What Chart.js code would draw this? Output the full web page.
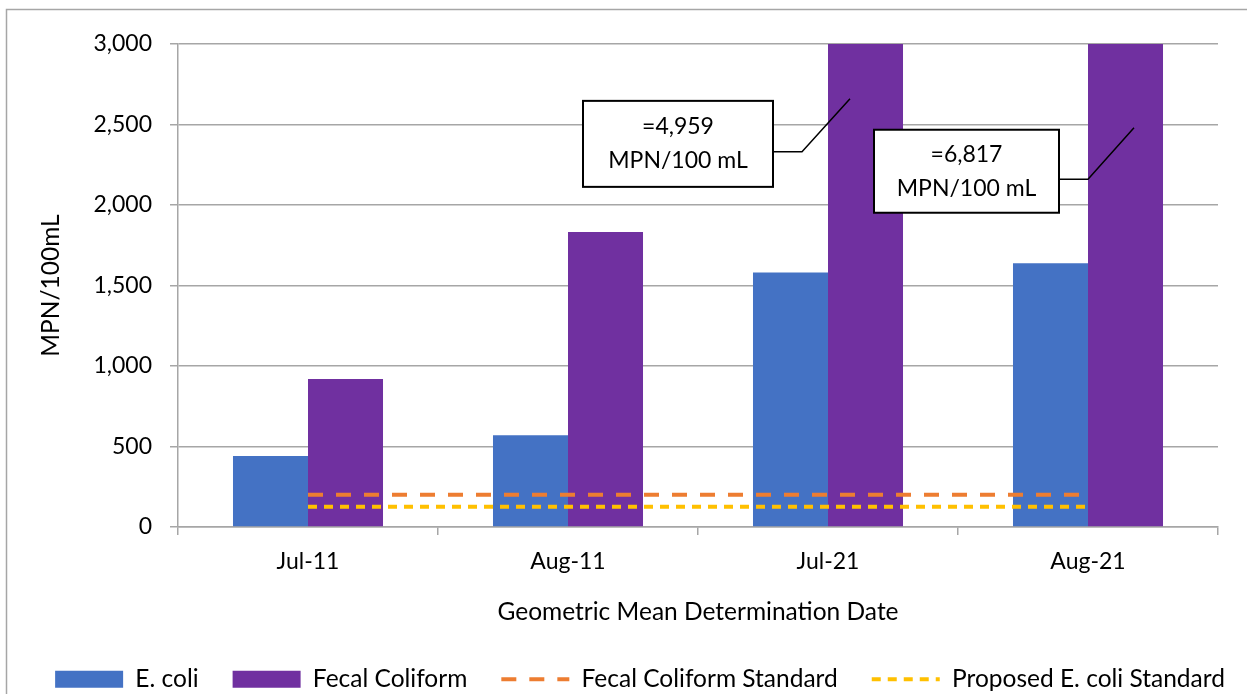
<!DOCTYPE html>
<html>
<head>
<meta charset="utf-8">
<title>Geometric Mean MPN/100mL</title>
<script src="https://cdn.jsdelivr.net/npm/chart.js@4.4.1/dist/chart.umd.min.js"></script>
<style>
  html, body { margin: 0; padding: 0; background: #fff; }
  #wrap { width: 1247px; height: 694px; position: relative; }
</style>
</head>
<body>
<div id="wrap"><canvas id="chart"></canvas></div>
<script>
// --- Data ---
const dates = ['Jul-11', 'Aug-11', 'Jul-21', 'Aug-21'];
const eColi = [441, 570, 1580, 1638];
const fecalColiform = [920, 1833, 4959, 6817];
const fecalStandard = [200, 200, 200, 200];
const eColiStandard = [126, 126, 126, 126];
const yMax = 3000;
const yStep = 500;

const FONT = 'Lato, "Noto Sans", sans-serif';
const FONT_SIZE = 23;     // ticks and callouts
const LABEL_SIZE = 24.5;  // axis titles and legend
const GRID = '#a6a6a6';

// Callouts for the bars that run off the top of the axis
const callouts = [
    { index: 2, tipDx: 22, tipValue: 2660, elbowDx: -26, elbowValue: 2330, boxW: 190, boxH: 86 },
    { index: 3, tipDx: 46, tipValue: 2480, elbowDx: 0, elbowValue: 2160, boxW: 185, boxH: 83 }
];

// Outer frame around the whole chart
const framePlugin = {
    id: 'frame',
    beforeDraw(chart) {
        const ctx = chart.ctx;
        ctx.save();
        ctx.fillStyle = '#fff';
        ctx.fillRect(0, 0, chart.width, chart.height);
        ctx.strokeStyle = GRID;
        ctx.lineWidth = 1.5;
        ctx.strokeRect(6.5, 9.5, chart.width + 20, chart.height + 20);
        ctx.restore();
    }
};

// Text boxes with leader lines pointing at the clipped bars
const calloutPlugin = {
    id: 'callouts',
    afterDatasetsDraw(chart) {
        const ctx = chart.ctx;
        const y = chart.scales.y;
        const meta = chart.getDatasetMeta(1);
        ctx.save();
        callouts.forEach(c => {
            const bar = meta.data[c.index];
            const barLeft = bar.x - bar.width / 2;
            const tipX = barLeft + c.tipDx;
            const tipY = y.getPixelForValue(c.tipValue);
            const elbowX = barLeft + c.elbowDx;
            const elbowY = y.getPixelForValue(c.elbowValue);
            const boxRight = elbowX - 29;
            const boxLeft = boxRight - c.boxW;
            const boxTop = elbowY - 8 - c.boxH / 2;

            ctx.strokeStyle = '#000';
            ctx.lineWidth = 1.5;
            ctx.beginPath();
            ctx.moveTo(boxRight, elbowY);
            ctx.lineTo(elbowX, elbowY);
            ctx.lineTo(tipX, tipY);
            ctx.stroke();

            ctx.fillStyle = '#fff';
            ctx.fillRect(boxLeft, boxTop, c.boxW, c.boxH);
            ctx.lineWidth = 2;
            ctx.strokeRect(boxLeft, boxTop, c.boxW, c.boxH);

            const value = fecalColiform[c.index];
            ctx.fillStyle = '#000';
            ctx.font = `${FONT_SIZE}px ${FONT}`;
            ctx.textAlign = 'center';
            ctx.textBaseline = 'middle';
            const cx = boxLeft + c.boxW / 2;
            const cy = boxTop + c.boxH / 2;
            ctx.fillText('=' + value.toLocaleString('en-US'), cx, cy - 17);
            ctx.fillText('MPN/100 mL', cx, cy + 17);
        });
        ctx.restore();
    }
};

// Keep the legend on one row, pin its height and centre it a little right
const legendFitPlugin = {
    id: 'legendFit',
    beforeInit(chart) {
        const fit = chart.legend.fit;
        chart.legend.fit = function () {
            const mw = this.maxWidth;
            this.maxWidth = mw + 200;
            fit.call(this);
            this.maxWidth = mw;
            this.width = mw;
            this.height = 61;
        };
    },
    afterLayout(chart) {
        // centre of the row ends up at (left + right) / 2
        chart.legend.left = 10;
        chart.legend.right = 1270;
    }
};

Chart.defaults.font.family = FONT;
Chart.defaults.font.size = FONT_SIZE;
Chart.defaults.color = '#000';

const ctx = document.getElementById('chart').getContext('2d');
new Chart(ctx, {
    data: {
        labels: dates,
        datasets: [
            {
                type: 'bar',
                label: 'E. coli',
                data: eColi,
                backgroundColor: '#4472c4',
                borderWidth: 0,
                pointStyle: 'rect',
                order: 1
            },
            {
                type: 'bar',
                label: 'Fecal Coliform',
                data: fecalColiform,
                backgroundColor: '#7030a0',
                borderWidth: 0,
                pointStyle: 'rect',
                order: 1
            },
            {
                type: 'line',
                label: 'Fecal Coliform Standard',
                data: fecalStandard,
                borderColor: '#ed7d31',
                backgroundColor: '#ed7d31',
                borderWidth: 4,
                borderDash: [15, 13],
                pointRadius: 0,
                pointStyle: 'line',
                fill: false,
                order: 0
            },
            {
                type: 'line',
                label: 'Proposed E. coli Standard',
                data: eColiStandard,
                borderColor: '#ffc000',
                backgroundColor: '#ffc000',
                borderWidth: 4,
                borderDash: [9, 7],
                pointRadius: 0,
                pointStyle: 'line',
                fill: false,
                order: 0
            }
        ]
    },
    options: {
        responsive: true,
        maintainAspectRatio: false,
        animation: false,
        layout: { padding: { left: 0, top: 44, right: 29, bottom: 0 } },
        datasets: {
            bar: { categoryPercentage: 0.577, barPercentage: 1 }
        },
        plugins: {
            tooltip: { enabled: false },
            legend: {
                position: 'bottom',
                labels: {
                    usePointStyle: true,
                    pointStyleWidth: 68,
                    boxHeight: 17,
                    padding: 34,
                    color: '#000',
                    font: { size: LABEL_SIZE },
                    sort: (a, b) => a.datasetIndex - b.datasetIndex,
                    generateLabels(chart) {
                        const items = Chart.defaults.plugins.legend.labels.generateLabels(chart);
                        items.forEach(item => {
                            const ds = chart.data.datasets[item.datasetIndex];
                            if (ds.type === 'line') {
                                // point style drops the dash pattern, copy it from the dataset
                                item.lineDash = ds.borderDash;
                                item.lineWidth = ds.borderWidth;
                                item.strokeStyle = ds.borderColor;
                            } else {
                                item.lineWidth = 0;
                            }
                        });
                        return items;
                    }
                }
            }
        },
        scales: {
            x: {
                grid: {
                    offset: true,
                    drawOnChartArea: false,
                    color: GRID,
                    lineWidth: 1.5,
                    tickLength: 8
                },
                border: { color: GRID, width: 1.5 },
                ticks: { padding: 13, font: { size: FONT_SIZE } },
                title: {
                    display: true,
                    text: 'Geometric Mean Determination Date',
                    font: { size: LABEL_SIZE },
                    padding: { top: 0, bottom: 6 }
                },
                afterFit(scale) { scale.height = 106; }
            },
            y: {
                min: 0,
                max: yMax,
                ticks: {
                    stepSize: yStep,
                    padding: 18,
                    font: { size: FONT_SIZE },
                    callback: v => v.toLocaleString('en-US')
                },
                grid: { color: GRID, lineWidth: 1.5, tickLength: 8 },
                border: { color: GRID, width: 1.5 },
                title: {
                    display: true,
                    text: 'MPN/100mL',
                    font: { size: LABEL_SIZE },
                    padding: { top: 36, bottom: 0 }
                },
                afterFit(scale) { scale.width = 178; }
            }
        }
    },
    plugins: [framePlugin, calloutPlugin, legendFitPlugin]
});
</script>
</body>
</html>
